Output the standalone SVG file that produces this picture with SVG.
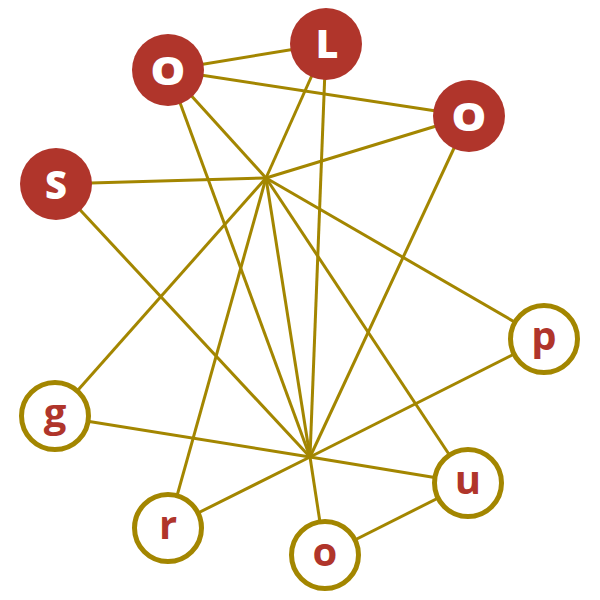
<svg xmlns="http://www.w3.org/2000/svg" width="600" height="600" viewBox="0 0 600 600">
<style>
.edge{stroke:#a38600;stroke-width:3;fill:none}
.solid circle{fill:#b0352b}
.ring circle{fill:#ffffff;stroke:#a38600;stroke-width:5}
.solid text{fill:#ffffff;font-family:"Open Sans","DejaVu Sans",sans-serif;font-weight:800;font-size:39px;text-anchor:middle}
.ring text{fill:#b0352b;font-family:"Open Sans","DejaVu Sans",sans-serif;font-weight:700;font-size:40px;text-anchor:middle}
</style>
<rect width="600" height="600" fill="#ffffff"/>
<g id="connectors">
<line class="edge" x1="266" y1="178" x2="56" y2="184"/>
<line class="edge" x1="266" y1="178" x2="168" y2="70"/>
<line class="edge" x1="266" y1="178" x2="326" y2="44"/>
<line class="edge" x1="266" y1="178" x2="469" y2="116"/>
<line class="edge" x1="266" y1="178" x2="544" y2="339"/>
<line class="edge" x1="266" y1="178" x2="468" y2="483"/>
<line class="edge" x1="266" y1="178" x2="55" y2="416"/>
<line class="edge" x1="266" y1="178" x2="168" y2="528"/>
<line class="edge" x1="266" y1="178" x2="310" y2="457"/>
<line class="edge" x1="310" y1="457" x2="56" y2="184"/>
<line class="edge" x1="310" y1="457" x2="168" y2="70"/>
<line class="edge" x1="310" y1="457" x2="326" y2="44"/>
<line class="edge" x1="310" y1="457" x2="469" y2="116"/>
<line class="edge" x1="310" y1="457" x2="544" y2="339"/>
<line class="edge" x1="310" y1="457" x2="468" y2="483"/>
<line class="edge" x1="310" y1="457" x2="55" y2="416"/>
<line class="edge" x1="310" y1="457" x2="168" y2="528"/>
<line class="edge" x1="310" y1="457" x2="325" y2="555"/>
<line class="edge" x1="168" y1="70" x2="326" y2="44"/>
<line class="edge" x1="168" y1="70" x2="469" y2="116"/>
<line class="edge" x1="468" y1="483" x2="325" y2="555"/>
</g>
<g id="node-S" class="solid"><circle cx="56" cy="184" r="36"/><text x="56" y="199" style="font-size:38px">S</text></g>
<g id="node-O1" class="solid"><circle cx="168" cy="70" r="36"/><text transform="translate(168,84.5) scale(1.15,1)" style="font-size:38px">O</text></g>
<g id="node-L" class="solid"><circle cx="326" cy="44" r="36"/><text x="327" y="58">L</text></g>
<g id="node-O2" class="solid"><circle cx="469" cy="116" r="36"/><text transform="translate(469,130.5) scale(1.15,1)" style="font-size:38px">O</text></g>
<g id="node-p" class="ring"><circle cx="544" cy="339" r="33.5"/><text x="544" y="350">p</text></g>
<g id="node-g" class="ring"><circle cx="55" cy="416" r="33.5"/><text x="55" y="427">g</text></g>
<g id="node-u" class="ring"><circle cx="468" cy="483" r="33.5"/><text x="468" y="494">u</text></g>
<g id="node-r" class="ring"><circle cx="168" cy="528" r="33.5"/><text x="168" y="539">r</text></g>
<g id="node-o" class="ring"><circle cx="325" cy="555" r="33.5"/><text x="325" y="566">o</text></g>
</svg>
